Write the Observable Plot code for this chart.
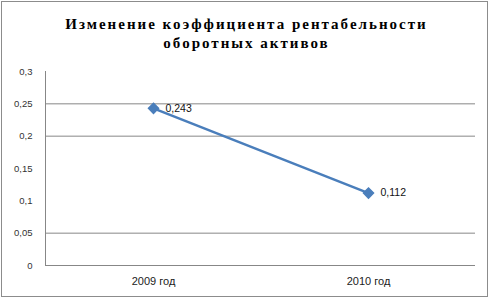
<!DOCTYPE html>
<html><head><meta charset="utf-8">
<script src="https://cdn.jsdelivr.net/npm/d3@7"></script>
<script src="https://cdn.jsdelivr.net/npm/@observablehq/plot@0.6"></script>
<style>
html,body{margin:0;padding:0;background:#fff;}
#wrap{position:relative;width:490px;height:299px;overflow:hidden;}
#border{position:absolute;left:1px;top:1px;width:485px;height:294px;border:1px solid #8c8c8c;pointer-events:none;}
</style></head>
<body><div id="wrap"><div id="chart"></div><div id="border"></div></div>
<script>
const years = ["2009 год", "2010 год"];
const values = [0.243, 0.112];
const valueLabels = ["0,243", "0,112"];
const yTicks = [0, 0.05, 0.1, 0.15, 0.2, 0.25, 0.3];
const gridValues = [0.05, 0.2, 0.25];
const titleText = "Изменение коэффициента рентабельности\nоборотных активов";

const data = years.map((y, i) => ({year: y, value: values[i], label: valueLabels[i]}));
const fmt = d => String(d).replace(".", ",");

const chart = Plot.plot({
  width: 490,
  height: 299,
  marginLeft: 45,
  marginRight: 15,
  marginTop: 71,
  marginBottom: 34,
  style: {fontFamily: "'Liberation Sans', sans-serif", fontSize: "10px", color: "#333", background: "transparent"},
  x: {type: "point", domain: years, padding: 0.5, label: null},
  y: {domain: [0, 0.3], label: null},
  marks: [
    Plot.ruleY(gridValues, {stroke: "#878787", strokeWidth: 1, strokeOpacity: 1}),
    Plot.axisY(yTicks, {tickSize: 0, tickPadding: 13, tickFormat: fmt, fontSize: 9.5, fill: "#333"}),
    Plot.axisX({tickSize: 0, tickPadding: 12, fontSize: 11, fill: "#222"}),
    Plot.frame({anchor: "left", stroke: "#878787", strokeOpacity: 1}),
    Plot.ruleY([0], {stroke: "#878787", strokeOpacity: 1}),
    Plot.line(data, {x: "year", y: "value", stroke: "#4A7EBB", strokeWidth: 2.5}),
    Plot.dot(data, {x: "year", y: "value", symbol: "diamond2", r: 4.5, fill: "#4A7EBB", stroke: "#4A7EBB"}),
    Plot.text(data, {x: "year", y: "value", text: "label", textAnchor: "start", dx: 12, fontSize: 10.5, fill: "#111"}),
    Plot.text([titleText], {frameAnchor: "top", dx: -14, dy: -39.5, lineAnchor: "middle", lineHeight: 1.3, fontSize: 15, fontWeight: "bold", fontFamily: "'Liberation Serif', serif", fill: "#000"})
  ]
});
chart.querySelectorAll("text").forEach(t => {
  if (t.textContent.startsWith("Изменение")) t.style.letterSpacing = "2px";
});
document.getElementById("chart").appendChild(chart);
</script>
</body></html>
